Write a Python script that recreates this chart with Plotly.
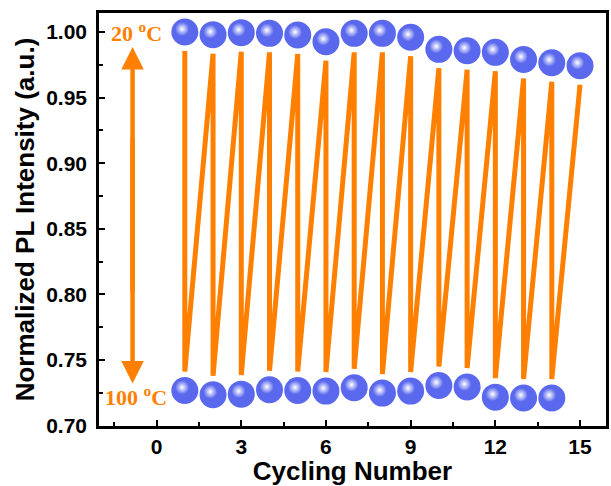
import plotly.graph_objects as go

# ---- data ----
cycles_top = list(range(1, 16))
intensity_20C = [1.000, 0.998, 0.9995, 0.999, 0.9977, 0.9926, 0.999, 0.999, 0.996,
                 0.9868, 0.9857, 0.9845, 0.979, 0.9766, 0.9743]
cycles_bottom = list(range(1, 15))
intensity_100C = [0.7267, 0.7234, 0.7239, 0.7272, 0.7267, 0.7262, 0.7288, 0.7247,
                  0.7262, 0.7305, 0.7293, 0.7216, 0.7209, 0.7209]
x_ticks = [0, 3, 6, 9, 12, 15]
y_ticks = [0.70, 0.75, 0.80, 0.85, 0.90, 0.95, 1.00]
label_hot = "100 <sup>o</sup>C"
label_cold = "20 <sup>o</sup>C"

# ---- styles ----
ORANGE = "#FF8000"
BLUE = "#5A68EE"
GAP = 0.0145
XR = [-2.04, 15.92]
YR = [0.6996, 1.0145]
DX, DY = 0.095, 0.0023

# zigzag line: top_i -> bottom_i -> top_{i+1}
lx, ly = [], []
for i, xt in enumerate(cycles_top):
    lx.append(xt); ly.append(intensity_20C[i] - GAP)
    if i < len(cycles_bottom):
        lx.append(cycles_bottom[i]); ly.append(intensity_100C[i] + GAP)

fig = go.Figure()
fig.add_trace(go.Scatter(x=lx, y=ly, mode="lines",
                         line=dict(color=ORANGE, width=5), hoverinfo="skip"))

all_x = cycles_top + cycles_bottom
all_y = intensity_20C + intensity_100C
fig.add_trace(go.Scatter(x=all_x, y=all_y, mode="markers",
                         marker=dict(size=27, color=BLUE, line=dict(width=0))))
fig.add_trace(go.Scatter(x=all_x, y=all_y, mode="markers", xaxis="x2", yaxis="y2",
                         marker=dict(size=14, color=BLUE, line=dict(width=0),
                                     gradient=dict(type="radial", color="#FFFFFF"))))

axis_font = dict(family="Liberation Sans, Arial", size=21, color="black", weight="bold")
title_font = dict(family="Liberation Sans, Arial", size=26, color="black", weight="bold")
fig.update_layout(
    width=611, height=486, autosize=False,
    margin=dict(l=99, r=2, t=13, b=60),
    paper_bgcolor="white", plot_bgcolor="white",
    showlegend=False,
    xaxis=dict(range=XR, tickvals=x_ticks, ticks="inside", ticklen=6, tickwidth=2,
               tickcolor="black", showline=True, linewidth=2.5, linecolor="black",
               mirror=True, showgrid=False, zeroline=False, tickfont=axis_font,
               ticklabelstandoff=0,
               minor=dict(dtick=1.5, tick0=-1.5, ticks="inside", ticklen=4,
                          tickwidth=2, tickcolor="black", showgrid=False),
               title=dict(text="Cycling Number", font=title_font, standoff=2)),
    yaxis=dict(range=YR, tickvals=y_ticks, tickformat=".2f", ticks="inside",
               ticklen=6, tickwidth=2, tickcolor="black", showline=True,
               linewidth=2.5, linecolor="black", mirror=True, showgrid=False,
               zeroline=False, tickfont=axis_font, ticklabelstandoff=5,
               minor=dict(dtick=0.025, tick0=0.675, ticks="inside", ticklen=4,
                          tickwidth=2, tickcolor="black", showgrid=False),
               title=dict(text="Normalized PL Intensity (a.u.)", font=title_font,
                          standoff=5)),
    xaxis2=dict(range=[XR[0] + DX, XR[1] + DX], overlaying="x", visible=False),
    yaxis2=dict(range=[YR[0] - DY, YR[1] - DY], overlaying="y", visible=False),
)

ARROW_X = -0.85
for tip, tail in ((0.9885, 0.80), (0.732, 0.92)):
    fig.add_annotation(x=ARROW_X, y=tip, ax=ARROW_X, ay=tail,
                       xref="x", yref="y", axref="x", ayref="y", text="",
                       showarrow=True, arrowhead=2, arrowsize=1.0,
                       arrowwidth=4.5, arrowcolor=ORANGE)

label_font = dict(family="Liberation Serif, Times New Roman", size=22,
                  color=ORANGE, weight="bold")
fig.add_annotation(x=-0.7, y=intensity_20C[0], text=label_cold, showarrow=False,
                   font=label_font, xref="x", yref="y")
fig.add_annotation(x=-0.74, y=intensity_100C[0] - 0.004, text=label_hot,
                   showarrow=False, font=label_font, xref="x", yref="y")

fig.write_html("out.html")
